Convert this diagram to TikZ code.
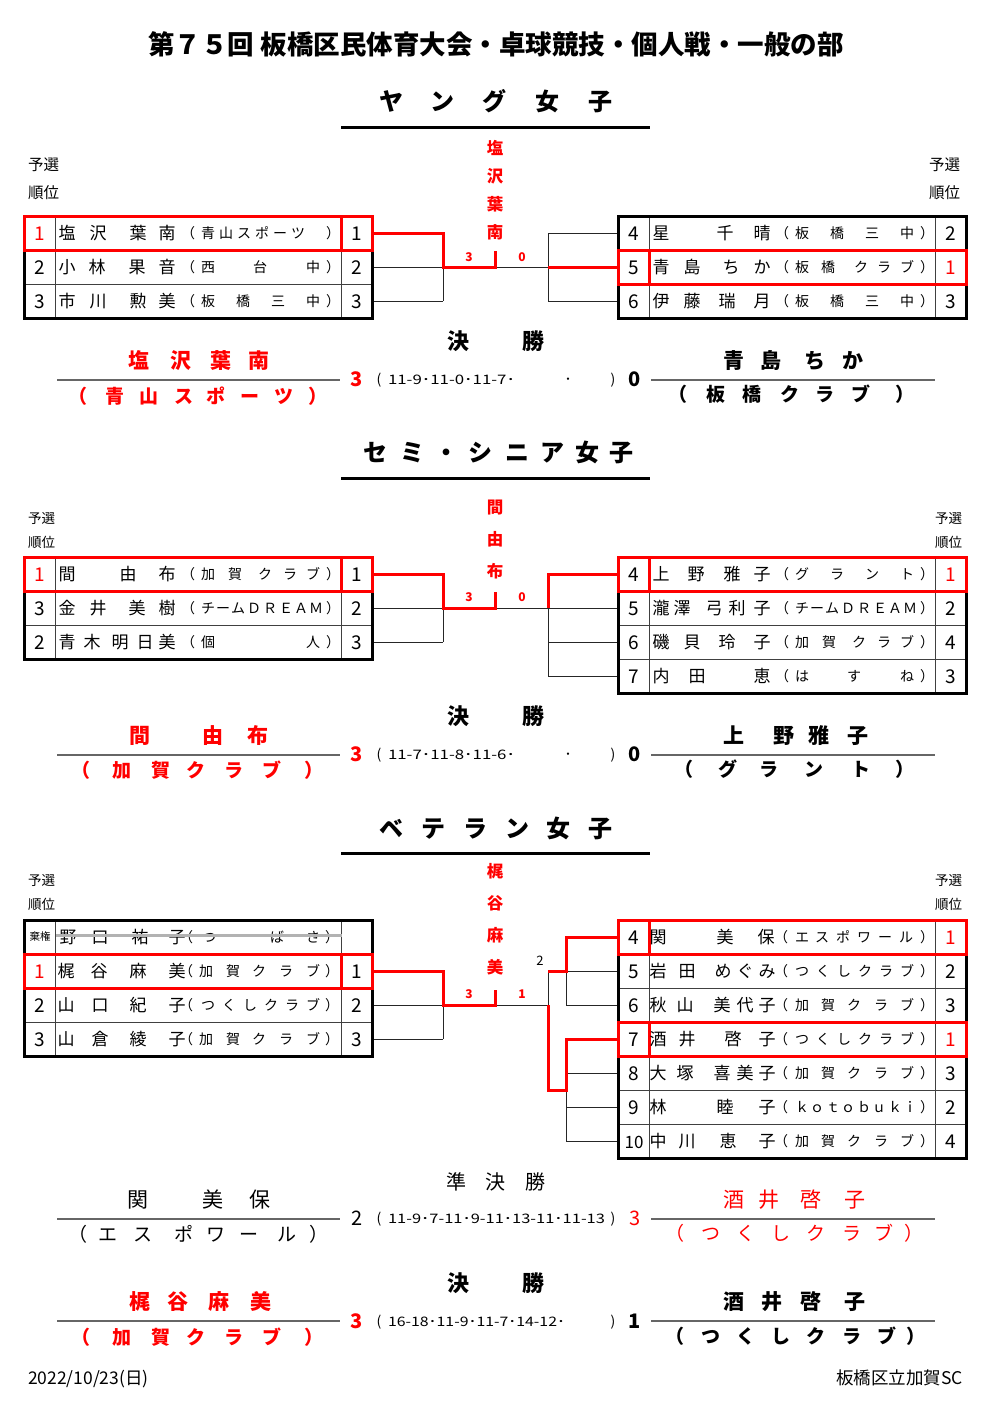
\documentclass[tikz,border=0pt]{standalone}
\usepackage{fontspec}
\setmainfont{Noto Sans CJK JP}
\usepackage{graphicx}
\tikzset{
 fs/.style n args={3}{inner sep=0pt,outer sep=0pt,font=\fontsize{#1}{#1}\selectfont,text height=#2,text depth=#3},
 fsb/.style n args={3}{inner sep=0pt,outer sep=0pt,font=\fontsize{#1}{#1}\selectfont\bfseries,text height=#2,text depth=#3},
 nm/.style={fs={17}{15pt}{2pt}},
 cl/.style={fs={14}{12.3pt}{1.7pt}},
 num/.style={fs={19}{16.7pt}{2.3pt}},
 sm/.style={fs={10.5}{9.2pt}{1.3pt}},
 vt/.style={fsb={16.5}{14.5pt}{2pt},text=red},
 lb/.style={fsb={12}{10.6pt}{1.4pt},text=red},
 lbn/.style={fs={13}{11.4pt}{1.6pt}},
 hd/.style={fsb={22}{19.4pt}{2.6pt}},
 hdn/.style={fs={20}{17.6pt}{2.4pt}},
 fn/.style={fsb={21}{18.5pt}{2.5pt}},
 fnn/.style={fs={21}{18.5pt}{2.5pt}},
 fc/.style={fsb={19}{16.7pt}{2.3pt}},
 fcn/.style={fs={19}{16.7pt}{2.3pt}},
 sc/.style={fsb={20}{17.6pt}{2.4pt}},
 scn/.style={fs={20}{17.6pt}{2.4pt}},
 dt/.style={fs={14}{12.3pt}{1.7pt}},
 st/.style={fsb={24}{21.1pt}{2.9pt}},
 tt/.style={fsb={26.5}{23.3pt}{3.2pt}},
 yl/.style={fs={15.5}{13.6pt}{1.9pt},anchor=west},
 yls/.style={fs={13.5}{11.9pt}{1.6pt},anchor=west},
 ft/.style={fs={17.5}{15.4pt}{2.1pt}},
 inner/.style={draw=black!75,line width=0.9pt},
 outer/.style={draw=black,line width=3pt},
 hl/.style={draw=red,line width=3pt},
 br/.style={draw=black!85,line width=1pt},
 rl/.style={draw=red,line width=3pt},
 fl/.style={draw=black!60,line width=1.3pt},
 strike/.style={draw=black!30,line width=3pt},
}
% character list along a row
\newcommand\chars[3]{\foreach \c/\xx in {#3}{\node[#1] at (\xx,#2) {\c};}}
% character list along a column
\newcommand\vchars[3]{\foreach \c/\yy in {#3}{\node[#1] at (#2,\yy) {\c};}}
% table frame: x0, ytop, rows
\newcommand\tbl[3]{%
 \foreach \i in {1,...,#3}{\draw[inner] (#1,{#2+34*\i}) -- ++(348,0);}
 \draw[inner] ({#1+31},#2) -- ++(0,{34*#3});
 \draw[inner] ({#1+317},#2) -- ++(0,{34*#3});
 \draw[outer] (#1,#2) rectangle ++(348,{34*#3});}
\newcommand\hlL[2]{\draw[hl] (#1,#2) rectangle ++(348,34); \draw[hl] ({#1+317},#2) -- ++(0,34);}
\newcommand\hlR[2]{\draw[hl] (#1,#2) rectangle ++(348,34); \draw[hl] ({#1+31},#2) -- ++(0,34);}
% table row: xoff, y, left number, name list, club list, right number
\newcommand\trow[6]{%
 \node[num] at ({#1+40},#2) {#3};
 \foreach \c/\xx in {#4}{\node[nm] at ({#1+\xx},#2) {\c};}
 \foreach \c/\xx in {#5}{\node[cl] at ({#1+\xx},#2) {\c};}
 \node[num] at ({#1+357},#2) {#6};}
% score line: y, digit style, left digit, detail, width, right digit
\newcommand\score[6]{%
 \node[#2] at (357,#1) {#3};
 \node[dt] at (379,#1) {(};
 \node[dt,anchor=west] at (388,#1) {\resizebox{#5pt}{9.5pt}{#4}};
 \node[dt] at (613,#1) {)};
 \node[#2] at (635,#1) {#6};}
\begin{document}
\begin{tikzpicture}[x=1pt,y=-1pt]
\useasboundingbox (0,0) rectangle (992,1403);
\fill[white] (0,0) rectangle (992,1403);

\node[tt] (title) at (496,44) {第７５回 板橋区民体育大会・卓球競技・個人戦・一般の部};

% ================= Section 1 =================
\chars{st}{101}{ヤ/391,ン/442,グ/494,女/547,子/600}
\draw[outer] (341,127) -- (650,127);
\node[yl] at (28,165) {予選}; \node[yl] at (28,193) {順位};
\node[yl] at (929,165) {予選}; \node[yl] at (929,193) {順位};
\vchars{vt}{495}{塩/148,沢/176,葉/204,南/232}

\draw[br] (373,267) -- (443,267) (373,301) -- (443,301) (443,267) -- (443,301)
          (495,267) -- (548,267) (548,233) -- (548,301) (548,233) -- (618,233) (548,301) -- (618,301);
\draw[rl] (373,233) -| (443,267) -| (495,251);
\draw[rl] (548,267) -- (618,267);
\node[lb] at (469,257) {3}; \node[lb] at (522,257) {0};

\tbl{24}{216}{3} \tbl{618}{216}{3}
\hlL{24}{216} \hlR{618}{250}
\trow{0}{233}{\textcolor{red}{1}}{塩/67,沢/98,葉/138,南/167}{（/188,青/208,山/226,ス/244,ポ/262,ー/280,ツ/298,）/333}{1}
\trow{0}{267}{2}{小/67,林/97,果/137,音/167}{（/188,西/208,台/260,中/313,）/333}{2}
\trow{0}{301}{3}{市/67,川/98,勲/138,美/167}{（/188,板/208,橋/243,三/278,中/313,）/333}{3}
\trow{594}{233}{4}{星/67,千/131,晴/168}{（/188,板/208,橋/243,三/278,中/313,）/333}{2}
\trow{594}{267}{5}{青/67,島/98,ち/137,か/168}{（/188,板/208,橋/234,ク/267,ラ/290,ブ/313,）/333}{\textcolor{red}{1}}
\trow{594}{301}{6}{伊/67,藤/98,瑞/133,月/168}{（/188,板/208,橋/243,三/278,中/313,）/333}{3}

\chars{hd}{341}{決/458,勝/533}
\chars{fn,text=red}{360}{塩/139,沢/181,葉/221,南/259}
\chars{fc,text=red}{396}{（/78,青/115,山/149,ス/184,ポ/216,ー/250,ツ/284,）/318}
\draw[fl] (57,380) -- (340,380); \draw[fl] (651,380) -- (935,380);
\score{379}{sc}{\textcolor{red}{3}}{11-9･11-0･11-7･}{127}{0}
\node[dt] at (568,379) {･};
\chars{fn}{360}{青/734,島/771,ち/815,か/853}
\chars{fc}{394}{（/678,板/716,橋/752,ク/790,ラ/825,ブ/861,）/905}

% ================= Section 2 =================
\chars{st}{452}{セ/375,ミ/412,・/446,シ/480,ニ/517,ア/552,女/587,子/621}
\draw[outer] (341,478) -- (650,478);
\node[yls] at (28,518) {予選}; \node[yls] at (28,542) {順位};
\node[yls] at (935,518) {予選}; \node[yls] at (935,542) {順位};
\vchars{vt}{495}{間/507,由/539,布/571}

\draw[br] (373,608) -- (443,608) (373,642) -- (443,642) (443,608) -- (443,642)
          (495,608) -- (618,608) (548,608) -- (548,676) (548,642) -- (618,642) (548,676) -- (618,676);
\draw[rl] (373,574) -| (443,608) -| (495,592);
\draw[rl] (548,608) |- (618,574);
\node[lb] at (469,597) {3}; \node[lb] at (522,597) {0};

\tbl{24}{557}{3} \tbl{618}{557}{4}
\hlL{24}{557} \hlR{618}{557}
\trow{0}{574}{\textcolor{red}{1}}{間/67,由/128,布/167}{（/188,加/208,賀/235,ク/265,ラ/290,ブ/313,）/333}{1}
\trow{0}{608}{3}{金/67,井/98,美/137,樹/167}{（/188,チ/208,ー/223,ム/238,Ｄ/254,Ｒ/270,Ｅ/286,Ａ/301,Ｍ/316,）/333}{2}
\trow{0}{642}{2}{青/67,木/92,明/120,日/145,美/167}{（/188,個/208,人/313,）/333}{3}
\trow{594}{574}{4}{上/67,野/102,雅/138,子/168}{（/188,グ/208,ラ/243,ン/278,ト/313,）/333}{\textcolor{red}{1}}
\trow{594}{608}{5}{瀧/67,澤/88,弓/120,利/143,子/168}{（/188,チ/208,ー/223,ム/238,Ｄ/254,Ｒ/270,Ｅ/286,Ａ/301,Ｍ/316,）/333}{2}
\trow{594}{642}{6}{磯/67,貝/98,玲/133,子/168}{（/188,加/208,賀/235,ク/265,ラ/290,ブ/313,）/333}{4}
\trow{594}{676}{7}{内/67,田/103,恵/168}{（/188,は/208,す/260,ね/313,）/333}{3}

\chars{hd}{716}{決/458,勝/533}
\chars{fn,text=red}{735}{間/140,由/213,布/258}
\chars{fc,text=red}{770}{（/81,加/122,賀/161,ク/196,ラ/234,ブ/272,）/314}
\draw[fl] (57,755) -- (340,755); \draw[fl] (651,755) -- (935,755);
\score{754}{sc}{\textcolor{red}{3}}{11-7･11-8･11-6･}{127}{0}
\node[dt] at (568,754) {･};
\chars{fn}{735}{上/734,野/784,雅/819,子/858}
\chars{fc}{769}{（/684,グ/728,ラ/769,ン/814,ト/861,）/905}

% ================= Section 3 =================
\chars{st}{828}{ベ/391,テ/433,ラ/475,ン/517,女/558,子/600}
\draw[outer] (341,853) -- (650,853);
\node[yls] at (28,880) {予選}; \node[yls] at (28,904) {順位};
\node[yls] at (935,880) {予選}; \node[yls] at (935,904) {順位};
\vchars{vt}{495}{梶/871,谷/903,麻/935,美/967}

\draw[br] (373,1005) -- (443,1005) (373,1039) -- (443,1039) (443,1005) -- (443,1039)
          (495,1005) -- (548,1005) (548,971) -- (548,1005)
          (566,971) -- (618,971) (566,971) -- (566,1005) (566,1005) -- (618,1005)
          (566,1073) -- (618,1073) (566,1090) -- (566,1141) (566,1107) -- (618,1107) (566,1141) -- (618,1141);
\draw[rl] (373,971) -| (443,1005) -| (495,990);
\draw[rl] (548,971) -- (566,971) |- (618,937);
\draw[rl] (548,1005) -- (548,1090) -- (566,1090) |- (618,1039);
\node[lb] at (469,994) {3}; \node[lb] at (522,994) {1};
\node[lbn] at (540,961) {2};

\tbl{24}{920}{4} \tbl{618}{920}{7}
\hlL{24}{954} \hlR{618}{920} \hlR{618}{1022}
\node[sm] at (40,937) {棄権};
\trow{0}{937}{}{野/68,口/100,祐/140,子/177}{（/186,つ/209,ば/277,さ/313,）/332}{}
\draw[strike] (56,935) -- (342,935);
\trow{0}{971}{\textcolor{red}{1}}{梶/66,谷/99,麻/138,美/177}{（/186,加/206,賀/233,ク/259,ラ/286,ブ/313,）/332}{1}
\trow{0}{1005}{2}{山/66,口/100,紀/138,子/177}{（/186,つ/208,く/229,し/250,ク/271,ラ/292,ブ/313,）/332}{2}
\trow{0}{1039}{3}{山/66,倉/100,綾/138,子/177}{（/186,加/206,賀/233,ク/259,ラ/286,ブ/313,）/332}{3}
\trow{594}{937}{4}{関/64,美/131,保/172}{（/187,エ/208,ス/228,ポ/249,ワ/270,ー/291,ル/312,）/333}{\textcolor{red}{1}}
\trow{594}{971}{5}{岩/64,田/93,め/129,ぐ/151,み/173}{（/187,つ/208,く/229,し/250,ク/271,ラ/292,ブ/313,）/333}{2}
\trow{594}{1005}{6}{秋/64,山/91,美/128,代/151,子/173}{（/187,加/208,賀/234,ク/260,ラ/287,ブ/313,）/333}{3}
\trow{594}{1039}{7}{酒/64,井/93,啓/139,子/173}{（/187,つ/208,く/229,し/250,ク/271,ラ/292,ブ/313,）/333}{\textcolor{red}{1}}
\trow{594}{1073}{8}{大/64,塚/91,喜/128,美/151,子/173}{（/187,加/208,賀/234,ク/260,ラ/287,ブ/313,）/333}{3}
\trow{594}{1107}{9}{林/64,睦/131,子/173}{（/187,ｋ/208,ｏ/223,ｔ/239,ｏ/254,ｂ/270,ｕ/285,ｋ/301,ｉ/316,）/333}{2}
\trow{594}{1141}{\fontsize{17}{17}\selectfont 10}{中/64,川/93,恵/134,子/173}{（/187,加/208,賀/234,ク/260,ラ/287,ブ/313,）/333}{4}

% semi-final
\chars{hdn}{1182}{準/456,決/495,勝/535}
\chars{fnn}{1199}{関/138,美/213,保/260}
\chars{fcn}{1234}{（/78,エ/108,ス/143,ポ/184,ワ/216,ー/249,ル/287,）/319}
\draw[fl] (57,1219) -- (340,1219); \draw[fl] (651,1219) -- (935,1219);
\score{1218}{scn}{2}{11-9･7-11･9-11･13-11･11-13}{217}{\textcolor{red}{3}}
\chars{fnn,text=red}{1199}{酒/734,井/769,啓/811,子/855}
\chars{fcn,text=red}{1233}{（/675,つ/711,く/746,し/781,ク/816,ラ/852,ブ/884,）/914}

% final
\chars{hd}{1283}{決/458,勝/533}
\chars{fn,text=red}{1301}{梶/140,谷/178,麻/219,美/261}
\chars{fc,text=red}{1337}{（/81,加/122,賀/161,ク/196,ラ/234,ブ/272,）/314}
\draw[fl] (57,1321) -- (340,1321); \draw[fl] (651,1321) -- (935,1321);
\score{1321}{sc}{\textcolor{red}{3}}{16-18･11-9･11-7･14-12･}{177}{1}
\chars{fn}{1301}{酒/734,井/772,啓/811,子/855}
\chars{fc}{1336}{（/675,つ/711,く/746,し/781,ク/816,ラ/852,ブ/887,）/916}

\node[ft,anchor=west] (date) at (28,1378) {2022/10/23(日)};
\node[ft,anchor=east] (club) at (963,1378) {板橋区立加賀SC};
\end{tikzpicture}
\end{document}
